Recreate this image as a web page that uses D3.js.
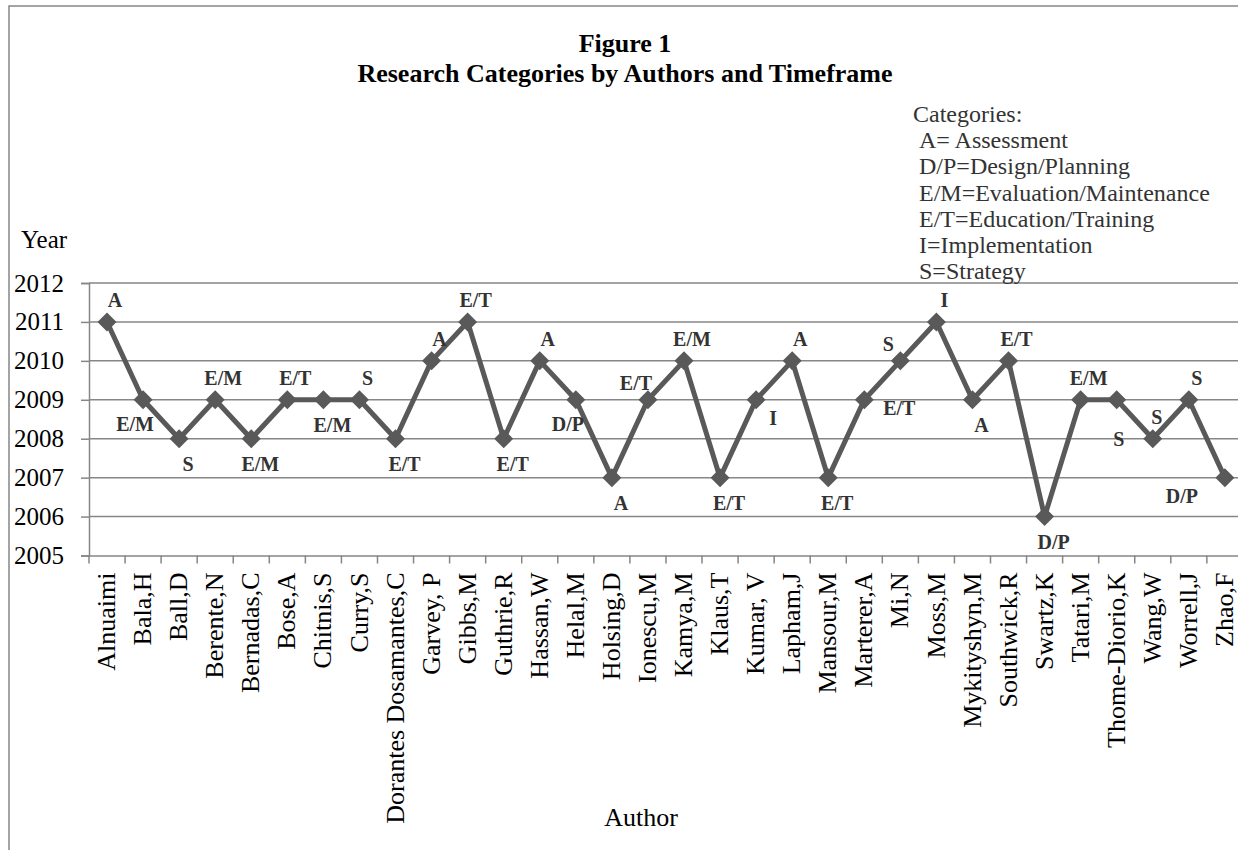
<!DOCTYPE html>
<html>
<head>
<meta charset="utf-8">
<script src="https://cdn.jsdelivr.net/npm/d3@7"></script>
<style>
  body { margin: 0; background: #fff; }
  svg text { font-family: "Liberation Serif", "Times New Roman", serif; }
</style>
</head>
<body>
<div id="chart"></div>
<script>
// authors (x categories)
const authors = [
  'Alnuaimi', 'Bala,H', 'Ball,D', 'Berente,N', 'Bernadas,C', 'Bose,A',
  'Chitnis,S', 'Curry,S', 'Dorantes Dosamantes,C', 'Garvey, P', 'Gibbs,M',
  'Guthrie,R', 'Hassan,W', 'Helal,M', 'Holsing,D', 'Ionescu,M', 'Kamya,M',
  'Klaus,T', 'Kumar, V', 'Lapham,J', 'Mansour,M', 'Marterer,A', 'Mi,N',
  'Moss,M', 'Mykityshyn,M', 'Southwick,R', 'Swartz,K', 'Tatari,M',
  'Thome-Diorio,K', 'Wang,W', 'Worrell,J', 'Zhao,F'
];
// publication year per author
const years = [
  2011, 2009, 2008, 2009, 2008, 2009, 2009, 2009, 2008, 2010, 2011,
  2008, 2010, 2009, 2007, 2009, 2010, 2007, 2009, 2010, 2007, 2009,
  2010, 2011, 2009, 2010, 2006, 2009, 2009, 2008, 2009, 2007
];
// research category per author
const cats = [
  'A', 'E/M', 'S', 'E/M', 'E/M', 'E/T', 'E/M', 'S', 'E/T', 'A', 'E/T',
  'E/T', 'A', 'D/P', 'A', 'E/T', 'E/M', 'E/T', 'I', 'A', 'E/T', 'E/T',
  'S', 'I', 'A', 'E/T', 'D/P', 'E/M', 'S', 'S', 'S', 'D/P'
];
// where the data label sits
// a=above b=below al=above-left bl=below-left br=below-right r=right l=left rb=right-below lb=left-below
const labelSide = [
  'a', 'bl', 'b', 'a', 'b', 'a', 'b', 'a', 'b', 'a', 'a',
  'b', 'a', 'bl', 'b', 'al', 'a', 'b', 'br', 'a', 'b', 'r',
  'al', 'a', 'b', 'a', 'b', 'a', 'rb', 'l', 'a', 'lb'
];
const yearTicks = [2005, 2006, 2007, 2008, 2009, 2010, 2011, 2012];
const legendLines = [
  'Categories:',
  '\u00a0A= Assessment',
  '\u00a0D/P=Design/Planning',
  '\u00a0E/M=Evaluation/Maintenance',
  '\u00a0E/T=Education/Training',
  '\u00a0I=Implementation',
  '\u00a0S=Strategy'
];

const width = 1238;
const height = 850;
const gridColor = '#868686';
const lineColor = '#595959';

const svg = d3.select('#chart').append('svg')
    .attr('width', width)
    .attr('height', height);

// outer frame (runs off the bottom/right of the picture)
svg.append('rect')
    .attr('x', 9).attr('y', 6)
    .attr('width', 1300).attr('height', 900)
    .attr('fill', '#fff')
    .attr('stroke', gridColor)
    .attr('stroke-width', 1.5);

const x = d3.scaleBand()
    .domain(authors)
    .range([89, 89 + 36.06 * authors.length])
    .padding(0);

const y = d3.scaleLinear()
    .domain([2005, 2012])
    .range([555.5, 283]);

// gridlines
svg.append('g')
    .selectAll('line')
    .data(yearTicks.slice(1))
    .enter()
    .append('line')
    .attr('x1', 89).attr('x2', 1260)
    .attr('y1', d => y(d)).attr('y2', d => y(d))
    .attr('stroke', gridColor)
    .attr('stroke-width', 1.5);

// y axis
const yAxis = svg.append('g')
    .attr('transform', 'translate(89,0)')
    .call(d3.axisLeft(y).tickValues(yearTicks).tickFormat(d3.format('d')).tickSize(8).tickPadding(17));
yAxis.select('.domain').attr('stroke', gridColor).attr('stroke-width', 1.5);
yAxis.selectAll('.tick line').attr('stroke', gridColor).attr('stroke-width', 1.5);
yAxis.selectAll('.tick text')
    .attr('font-size', 25)
    .attr('fill', '#000');

// x axis
const xAxis = svg.append('g')
    .attr('transform', 'translate(0,' + y(2005) + ')')
    .call(d3.axisBottom(x).tickSize(0).tickPadding(0));
xAxis.select('.domain').attr('stroke', gridColor).attr('stroke-width', 1.5);
xAxis.selectAll('.tick text')
    .attr('font-size', 26)
    .attr('fill', '#000')
    .attr('text-anchor', 'end')
    .attr('transform', 'translate(-1,17) rotate(-90)')
    .attr('x', 0)
    .attr('y', 0)
    .attr('dy', '0.35em');

// category boundary ticks
xAxis.selectAll('line.bound')
    .data(authors.concat(['__end']))
    .enter()
    .append('line')
    .attr('class', 'bound')
    .attr('x1', (d, i) => x.range()[0] + i * x.bandwidth())
    .attr('x2', (d, i) => x.range()[0] + i * x.bandwidth())
    .attr('y1', 0).attr('y2', 8)
    .attr('stroke', gridColor)
    .attr('stroke-width', 1.5);

const pts = authors.map((a, i) => ({
    author: a, year: years[i], cat: cats[i], side: labelSide[i],
    cx: x(a) + x.bandwidth() / 2, cy: y(years[i])
}));

// line
svg.append('path')
    .datum(pts)
    .attr('fill', 'none')
    .attr('stroke', lineColor)
    .attr('stroke-width', 5)
    .attr('stroke-linejoin', 'round')
    .attr('d', d3.line().x(d => d.cx).y(d => d.cy));

// diamond markers
svg.append('g')
    .selectAll('path')
    .data(pts)
    .enter()
    .append('path')
    .attr('d', d3.symbol().type(d3.symbolDiamond2).size(230))
    .attr('transform', d => 'translate(' + d.cx + ',' + d.cy + ')')
    .attr('fill', lineColor);

// data labels
const nudge = {
    a: [8, -22], b: [9, 25], al: [-12, -17], bl: [-8, 24], br: [17, 18],
    r: [35, 8], l: [-34, 0], rb: [40, 17], lb: [-43, 18]
};
svg.append('g')
    .selectAll('text')
    .data(pts)
    .enter()
    .append('text')
    .attr('x', d => d.cx + nudge[d.side][0])
    .attr('y', d => d.cy + nudge[d.side][1])
    .attr('dy', '0.35em')
    .attr('text-anchor', 'middle')
    .attr('font-size', 20)
    .attr('font-weight', 'bold')
    .attr('fill', '#333')
    .text(d => d.cat);

// titles
svg.append('text')
    .attr('x', 625).attr('y', 52)
    .attr('text-anchor', 'middle')
    .attr('font-size', 26)
    .attr('font-weight', 'bold')
    .text('Figure 1');
svg.append('text')
    .attr('x', 625).attr('y', 82)
    .attr('text-anchor', 'middle')
    .attr('font-size', 26)
    .attr('font-weight', 'bold')
    .text('Research Categories by Authors and Timeframe');

// legend text box
svg.append('g')
    .selectAll('text')
    .data(legendLines)
    .enter()
    .append('text')
    .attr('x', 913)
    .attr('y', (d, i) => 122 + i * 26.2)
    .attr('font-size', 24)
    .attr('fill', '#333')
    .text(d => d);

// axis titles
svg.append('text')
    .attr('x', 21).attr('y', 248)
    .attr('font-size', 25)
    .text('Year');
svg.append('text')
    .attr('x', 641).attr('y', 826)
    .attr('text-anchor', 'middle')
    .attr('font-size', 26)
    .text('Author');
</script>
</body>
</html>
